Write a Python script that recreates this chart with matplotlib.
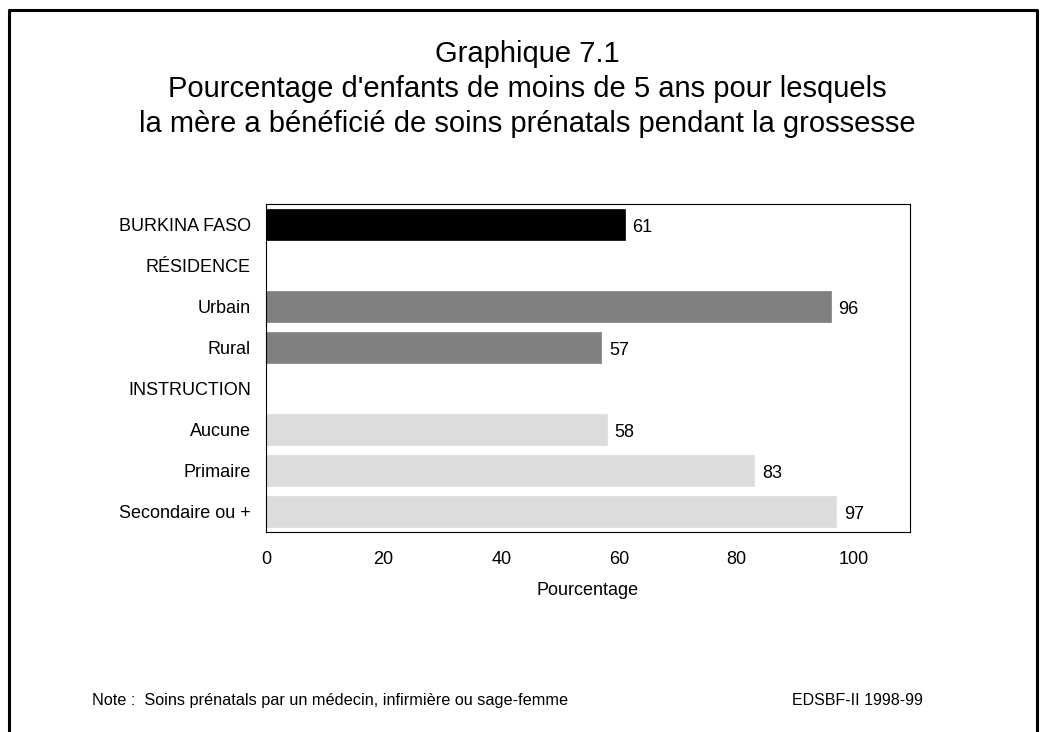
import matplotlib
matplotlib.use("Agg")
import matplotlib.pyplot as plt
from matplotlib.lines import Line2D

plt.rcParams['font.family'] = ['Liberation Sans', 'DejaVu Sans']

categories = ['BURKINA FASO', 'RÉSIDENCE', 'Urbain', 'Rural',
              'INSTRUCTION', 'Aucune', 'Primaire', 'Secondaire ou +']
values = [61, None, 96, 57, None, 58, 83, 97]
colors = ['#000000', None, '#808080', '#808080', None, '#dcdcdc', '#dcdcdc', '#dcdcdc']
xticks = [0, 20, 40, 60, 80, 100]

fig = plt.figure(figsize=(10.47, 7.32), dpi=100)
ax = fig.add_axes([0.2541, 0.2732, 0.6150, 0.4481])

for i, (v, c) in enumerate(zip(values, colors)):
    if v is None:
        continue
    ax.barh(i, v, height=0.76, color=c, edgecolor=c, linewidth=0.5)
    ax.text(v + 1.3, i + 0.07, str(v), va='center', ha='left', fontsize=13)

ax.set_ylim(7.5, -0.5)
ax.set_xlim(0, 109.5)
ax.set_yticks(range(len(categories)))
ax.set_yticklabels(categories, fontsize=13)
ax.set_xticks(xticks)
ax.set_xticklabels([str(t) for t in xticks], fontsize=13)
ax.tick_params(axis='y', length=0, pad=11)
ax.tick_params(axis='x', length=0, pad=14)
ax.set_xlabel('Pourcentage', fontsize=13, labelpad=10)
for s in ax.spines.values():
    s.set_linewidth(0.8)

title_lines = ['Graphique 7.1',
               "Pourcentage d'enfants de moins de 5 ans pour lesquels",
               "la mère a bénéficié de soins prénatals pendant la grossesse"]
for k, line in enumerate(title_lines):
    fig.text(0.504, 1 - (62 + 35 * k) / 732, line, ha='center', va='baseline', fontsize=21)

fig.text(0.088, 0.043, 'Note :  Soins prénatals par un médecin, infirmière ou sage-femme',
         ha='left', va='center', fontsize=11.7)
fig.text(0.881, 0.043, 'EDSBF-II 1998-99', ha='right', va='center', fontsize=11.5)

# page border (left, top, right)
bx0, bx1, by1 = 9 / 1047, 1037 / 1047, 1 - 10 / 732
fig.add_artist(Line2D([bx0, bx0, bx1, bx1], [0, by1, by1, 0],
                      transform=fig.transFigure, color='black', linewidth=2.2))

fig.savefig('out.png', dpi=100)
